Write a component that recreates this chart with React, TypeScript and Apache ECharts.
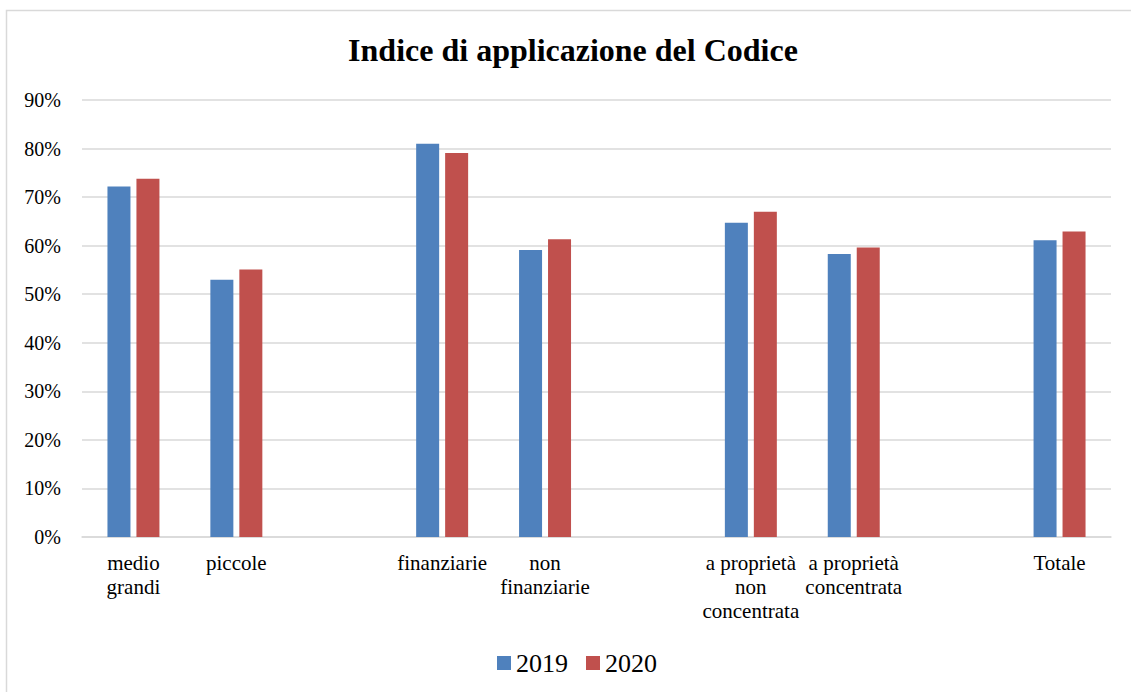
import React, { useEffect, useRef } from "react";
import * as echarts from "echarts";

const categories = [
  "medio\ngrandi",
  "piccole",
  "",
  "finanziarie",
  "non\nfinanziarie",
  "",
  "a proprietà\nnon\nconcentrata",
  "a proprietà\nconcentrata",
  "",
  "Totale",
];
const values2019 = [72.2, 53.0, null, 81.0, 59.1, null, 64.7, 58.3, null, 61.1];
const values2020 = [73.8, 55.1, null, 79.1, 61.3, null, 67.0, 59.6, null, 62.9];
const seriesNames = ["2019", "2020"];
const title = "Indice di applicazione del Codice";

const FONT = "'Liberation Serif', 'Times New Roman', serif";

export default function App() {
  const ref = useRef<HTMLDivElement>(null);
  useEffect(() => {
    if (!ref.current) return;
    const chart = echarts.init(ref.current, null, { renderer: "svg" });
    chart.setOption({
      animation: false,
      backgroundColor: "#ffffff",
      textStyle: { fontFamily: FONT },
      title: {
        text: title,
        left: 568,
        textAlign: "center",
        top: 27,
        textStyle: {
          fontFamily: FONT,
          fontSize: 32,
          fontWeight: "bold",
          color: "#000",
          lineHeight: 36,
        },
      },
      legend: {
        data: seriesNames,
        left: 497,
        top: 648,
        padding: 0,
        itemWidth: 14,
        itemHeight: 14,
        itemGap: 18,
        icon: "rect",
        textStyle: { fontFamily: FONT, fontSize: 26, color: "#000", lineHeight: 30 },
      },
      graphic: [
        {
          type: "rect",
          shape: { x: 6.5, y: 10.5, width: 1130, height: 690 },
          style: { fill: "none", stroke: "#d9d9d9", lineWidth: 1.5 },
          silent: true,
        },
      ],
      grid: { left: 82, right: 20, top: 100, bottom: 155, containLabel: false },
      xAxis: {
        type: "category",
        data: categories,
        axisLine: { show: true, lineStyle: { color: "#d9d9d9", width: 1.5 } },
        axisTick: { show: false },
        axisLabel: {
          interval: 0,
          fontFamily: FONT,
          fontSize: 21,
          color: "#000",
          lineHeight: 24,
          margin: 14,
        },
      },
      yAxis: {
        type: "value",
        min: 0,
        max: 90,
        interval: 10,
        axisLine: { show: false },
        axisTick: { show: false },
        splitLine: { lineStyle: { color: "#d9d9d9", width: 1.5 } },
        axisLabel: {
          formatter: "{value}%",
          fontFamily: FONT,
          fontSize: 20,
          color: "#000",
          margin: 21,
        },
      },
      series: [
        {
          name: seriesNames[0],
          type: "bar",
          data: values2019,
          barWidth: 23,
          barGap: "26%",
          itemStyle: { color: "#4F81BD" },
        },
        {
          name: seriesNames[1],
          type: "bar",
          data: values2020,
          barWidth: 23,
          barGap: "26%",
          itemStyle: { color: "#C0504D" },
        },
      ],
    });
    return () => chart.dispose();
  }, []);
  return (
    <div
      ref={ref}
      style={{ position: "fixed", left: 0, top: 0, width: 1131, height: 692 }}
    />
  );
}
